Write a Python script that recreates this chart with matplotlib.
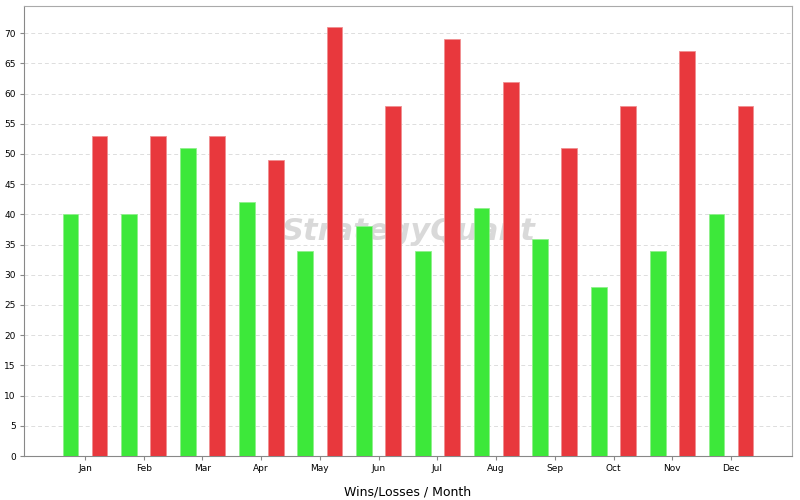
import numpy as np
import matplotlib
matplotlib.use("Agg")
import matplotlib.pyplot as plt

months = ["Jan", "Feb", "Mar", "Apr", "May", "Jun", "Jul", "Aug", "Sep", "Oct", "Nov", "Dec"]
wins = [40, 40, 51, 42, 34, 38, 34, 41, 36, 28, 34, 40]
losses = [53, 53, 53, 49, 71, 58, 69, 62, 51, 58, 67, 58]
y_ticks = list(range(0, 75, 5))

fig = plt.figure(figsize=(8, 5), dpi=100)
ax = fig.add_axes([0.03, 0.088, 0.96, 0.9])

x = np.arange(len(months))
width = 0.27
off = 0.247

ax.bar(x - off, wins, width, color="#3de83a", edgecolor="#8ff08c", linewidth=0.6, zorder=3)
ax.bar(x + off, losses, width, color="#e8383d", edgecolor="#f08e90", linewidth=0.6, zorder=3)

ax.set_xlim(-1.04, len(months) - 1 + 1.04)
ax.set_ylim(0, 74.5)
ax.set_xticks(x)
ax.set_xticklabels(months, fontsize=6.5)
ax.set_yticks(y_ticks)
ax.set_yticklabels([str(v) for v in y_ticks], fontsize=6.5)
ax.tick_params(axis="both", length=3, color="#888888", pad=3)

ax.grid(axis="y", linestyle=(0, (4, 3)), color="#dddddd", linewidth=0.7, zorder=0)

for side in ["left", "bottom"]:
    ax.spines[side].set_color("#888888")
for side in ["top", "right"]:
    ax.spines[side].set_color("#aaaaaa")

ax.set_xlabel("Wins/Losses / Month", fontsize=9, labelpad=9)

# filigrane derrière les barres
ax.text(0.5, 0.5, "StrategyQuant", transform=ax.transAxes, ha="center", va="center",
        fontsize=22, fontweight="bold", style="italic", color="#d0d0d0", alpha=0.8, zorder=1)

fig.savefig("out.png", dpi=100)
